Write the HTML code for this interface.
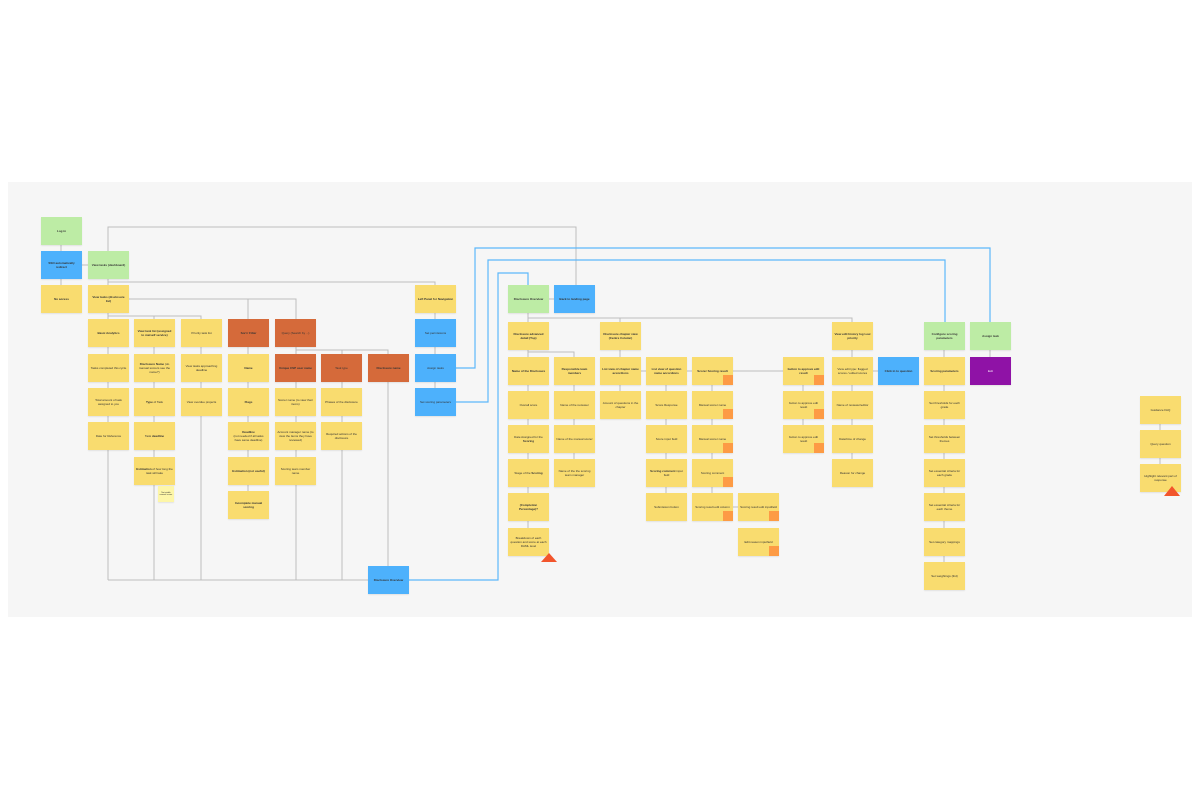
<!DOCTYPE html>
<html><head><meta charset="utf-8"><style>
body{margin:0;width:1200px;height:800px;background:#fff;position:relative;overflow:hidden;font-family:"Liberation Sans",sans-serif}
#bg{position:absolute;left:8px;top:182px;width:1184px;height:435px;background:#f6f6f6}
.n{position:absolute;width:41px;height:28px;background:#f9dc6f;display:flex;align-items:center;justify-content:center;text-align:center;font-size:3px;line-height:4px;color:#333;padding:2px;box-sizing:border-box;box-shadow:0 1px 1px rgba(0,0,0,.08)}
.b{font-weight:bold}
.g{background:#bdeca5}.bl{background:#4db1fc}.o{background:#d56a3a}.p{background:#8f12a6;color:#fff}
.c::after{content:"";position:absolute;right:0;bottom:0;width:10px;height:10px;background:#fd9b45}
svg{position:absolute;left:0;top:0}
</style></head><body>
<div id="bg"></div>
<svg width="1200" height="800" fill="none">
<g stroke="#bdbdbd" stroke-width="1">
<path d="M61 245V251M61 279V285M82 265H88"/>
<path d="M108 251V227H576V285"/>
<path d="M108 279V285M108 282H435V285"/>
<path d="M129 299H296V319M248 299V319"/>
<path d="M108 313V319M108 316H201V319M154 316V319"/>
<path d="M108 347V354M108 382V388M108 416V422M108 450V580"/>
<path d="M154 347V354M154 382V388M154 416V422M154 450V457M154 485V580"/>
<path d="M201 347V354M201 382V388M201 416V580"/>
<path d="M248 347V354M248 382V388M248 416V422M248 450V457M248 485V491"/>
<path d="M296 347V354M296 350H388V354M342 350V354M296 382V388M296 416V422M296 450V457M296 485V580"/>
<path d="M342 382V388M342 416V422M342 450V580"/>
<path d="M388 382V566"/>
<path d="M108 580H368"/>
<path d="M435 313V319M435 347V354M435 382V388"/>
<path d="M549 299H554"/>
<path d="M528 313V322M528 318H852V322M620 318V322"/>
<path d="M528 350V357M528 352H574V357"/>
<path d="M528 385V391M528 419V425M528 453V459M528 487V493M528 521V528"/>
<path d="M574 385V391M574 419V425M574 453V459"/>
<path d="M620 350V357M620 385V391M641 371H646M687 371H692M733 371H783"/>
<path d="M666 385V391M666 419V425M666 453V459M666 487V493"/>
<path d="M712 385V391M712 419V425M712 453V459M712 487V493M733 507H738"/>
<path d="M803 385V391M803 419V425"/>
<path d="M852 350V357M852 385V391M852 419V425M852 453V459M873 371H878"/>
<path d="M944 350V357M944 385V391M944 419V425M944 453V459M944 487V493M944 521V528M944 556V562"/>
<path d="M990 350V357"/>
<path d="M1160 424V430M1160 458V464"/>
</g>
<g stroke="#5cb8fb" stroke-width="1.2">
<path d="M456 368H475V248H990V322"/>
<path d="M456 402H488V260H945V322"/>
<path d="M409 580H498V273H528V285"/>
</g>
</svg>

<div class="n g b" style="left:41px;top:217px">Log in</div>
<div class="n bl b" style="left:41px;top:251px">SSO automatically redirect</div>
<div class="n b" style="left:41px;top:285px">No access</div>

<div class="n g b" style="left:88px;top:251px">View tasks (dashboard)</div>
<div class="n b" style="left:88px;top:285px">View tasks (disclosure list)</div>
<div class="n b" style="left:88px;top:319px">Basic Analytics</div>
<div class="n" style="left:88px;top:354px">Tasks completed this cycle</div>
<div class="n" style="left:88px;top:388px">Total amount of task assigned to you</div>
<div class="n" style="left:88px;top:422px">Date for Reference</div>

<div class="n b" style="left:134px;top:319px">View task list (assigned to me/self service)</div>
<div class="n" style="left:134px;top:354px"><span><b>Disclosure Name</b> (do manual scorers see the name?)</span></div>
<div class="n" style="left:134px;top:388px"><span><b>Type</b> of Task</span></div>
<div class="n" style="left:134px;top:422px"><span>Task <b>deadline</b></span></div>
<div class="n" style="left:134px;top:457px"><span><b>Estimation</b> of how long the task will take</span></div>
<div class="n" style="left:158px;top:486px;width:16px;height:16px;background:#fdf6a8;font-size:2px;line-height:2.5px;padding:1px">Not visible manual scorer</div>

<div class="n" style="left:181px;top:319px">Priority task list</div>
<div class="n" style="left:181px;top:354px">View tasks approaching deadline</div>
<div class="n" style="left:181px;top:388px">View overdue projects</div>

<div class="n o b" style="left:228px;top:319px">Sort / Filter</div>
<div class="n b" style="left:228px;top:354px">Name</div>
<div class="n b" style="left:228px;top:388px">Flags</div>
<div class="n" style="left:228px;top:422px"><span><b>Deadline</b><br>(not needed if all tasks have same deadline)</span></div>
<div class="n b" style="left:228px;top:457px">Estimation (not useful)</div>
<div class="n b" style="left:228px;top:491px">Incomplete manual scoring</div>

<div class="n o" style="left:275px;top:319px">Query (Search by ...)</div>
<div class="n o b" style="left:275px;top:354px">Unique CSP user name</div>
<div class="n" style="left:275px;top:388px">Scorer name (to view their items)</div>
<div class="n" style="left:275px;top:422px">Account manager name (to view the items they have reviewed)</div>
<div class="n" style="left:275px;top:457px">Scoring team member name</div>

<div class="n o" style="left:321px;top:354px">Task type</div>
<div class="n" style="left:321px;top:388px">Phases of the disclosure</div>
<div class="n" style="left:321px;top:422px">Required actions of the disclosure</div>

<div class="n o b" style="left:368px;top:354px">Disclosure name</div>
<div class="n bl b" style="left:368px;top:566px">Disclosure Overview</div>

<div class="n b" style="left:415px;top:285px">Left Panel for Navigation</div>
<div class="n bl" style="left:415px;top:319px">Set permissions</div>
<div class="n bl" style="left:415px;top:354px">Assign tasks</div>
<div class="n bl" style="left:415px;top:388px">Set scoring parameters</div>

<div class="n g b" style="left:508px;top:285px">Disclosure Overview</div>
<div class="n bl b" style="left:554px;top:285px">Back to landing page</div>
<div class="n b" style="left:508px;top:322px">Disclosure advanced detail (Top)</div>
<div class="n b" style="left:508px;top:357px">Name of the Disclosure</div>
<div class="n" style="left:508px;top:391px">Overall score</div>
<div class="n" style="left:508px;top:425px"><span>Date Assigned for the <b>Scoring</b></span></div>
<div class="n" style="left:508px;top:459px"><span>Stage of the <b>Scoring</b></span></div>
<div class="n b" style="left:508px;top:493px">(Completion Percentage)?</div>
<div class="n" style="left:508px;top:528px">Breakdown of each question and score at each DAML level</div>

<div class="n b" style="left:554px;top:357px">Responsible team members</div>
<div class="n" style="left:554px;top:391px">Name of the reviewer</div>
<div class="n" style="left:554px;top:425px">Name of the manual scorer</div>
<div class="n" style="left:554px;top:459px">Name of the the scoring team manager</div>

<div class="n b" style="left:600px;top:322px">Disclosure chapter view (Centre Column)</div>
<div class="n b" style="left:600px;top:357px">List view of chapter name accordions</div>
<div class="n" style="left:600px;top:391px">Amount of questions in the chapter</div>

<div class="n b" style="left:646px;top:357px">List view of question name accordions</div>
<div class="n" style="left:646px;top:391px">Score Response</div>
<div class="n" style="left:646px;top:425px">Score input field</div>
<div class="n" style="left:646px;top:459px"><span><b>Scoring comment</b> input field</span></div>
<div class="n" style="left:646px;top:493px">Submission button</div>

<div class="n c b" style="left:692px;top:357px">Scorer Scoring result</div>
<div class="n c" style="left:692px;top:391px">Manual scorer name</div>
<div class="n c" style="left:692px;top:425px">Manual scorer name</div>
<div class="n c" style="left:692px;top:459px">Scoring comment</div>
<div class="n c" style="left:692px;top:493px">Scoring result edit column</div>
<div class="n c" style="left:738px;top:493px">Scoring result edit inputfield</div>
<div class="n c" style="left:738px;top:528px">Edit reason inputfield</div>

<div class="n c b" style="left:783px;top:357px">button to approve edit result</div>
<div class="n c" style="left:783px;top:391px">button to approve edit result</div>
<div class="n c" style="left:783px;top:425px">button to approve edit result</div>

<div class="n b" style="left:832px;top:322px">View edit history log Low priority</div>
<div class="n" style="left:832px;top:357px">View edit type: flagged scores / edited scores</div>
<div class="n" style="left:832px;top:391px">Name of reviewer/editor</div>
<div class="n" style="left:832px;top:425px">Date/time of change</div>
<div class="n" style="left:832px;top:459px">Reason for change</div>
<div class="n bl b" style="left:878px;top:357px">Click in to question</div>

<div class="n g b" style="left:924px;top:322px">Configure scoring parameters</div>
<div class="n b" style="left:924px;top:357px">Scoring parameters</div>
<div class="n" style="left:924px;top:391px">Set thresholds for each grade</div>
<div class="n" style="left:924px;top:425px">Set thresholds between themes</div>
<div class="n" style="left:924px;top:459px">Set essential criteria for each grade</div>
<div class="n" style="left:924px;top:493px">Set essential criteria for each theme</div>
<div class="n" style="left:924px;top:528px">Set category mappings</div>
<div class="n" style="left:924px;top:562px">Set weightings (tbd)</div>

<div class="n g b" style="left:970px;top:322px">Assign task</div>
<div class="n p" style="left:970px;top:357px">Exit</div>

<div class="n" style="left:1140px;top:396px">Guidance FAQ</div>
<div class="n" style="left:1140px;top:430px">Query question</div>
<div class="n" style="left:1140px;top:464px">Highlight relevant part of response</div>

<svg width="1200" height="800">
<path d="M541 562L549 553L557 562Z" fill="#f2552c"/>
<path d="M1164 496L1172 486L1180 496Z" fill="#f2552c"/>
</svg>
</body></html>
